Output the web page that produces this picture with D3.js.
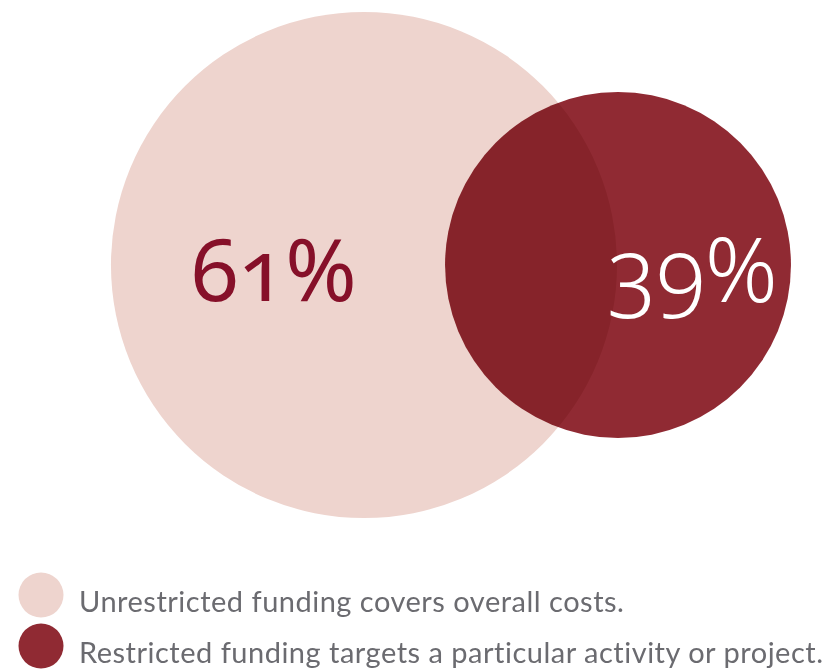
<!DOCTYPE html>
<html>
<head>
<meta charset="utf-8">
<script src="https://cdn.jsdelivr.net/npm/d3@7"></script>
<style>
  html, body { margin: 0; padding: 0; background: #fff; }
  svg { display: block; }
</style>
</head>
<body>
<svg id="chart" width="830" height="671"></svg>
<script>
// Funding split: unrestricted vs restricted
const categories = ["Unrestricted", "Restricted"];
const values = [61, 39];
const legendLabels = [
  "Unrestricted funding covers overall costs.",
  "Restricted funding targets a particular activity or project."
];
const fills = ["#eed4ce", "#902a33"];
const labelColors = ["#861029", "#ffffff"];

const svg = d3.select("#chart");

// Bubble radius and placement scales
const rScale = d3.scaleLinear().domain([0, 100]).range([31, 395]);
const xScale = d3.scalePoint().domain(categories).range([364, 618]);
const cy = 265;

const data = categories.map((c, i) => ({
  cat: c, value: values[i], fill: fills[i], labelColor: labelColors[i]
}));

const bubbles = svg.append("g");
// Restricted circle first, unrestricted multiplied over it so the overlap darkens
bubbles.selectAll("circle")
  .data([data[1], data[0]])
  .join("circle")
  .attr("cx", d => xScale(d.cat))
  .attr("cy", cy)
  .attr("r", d => rScale(d.value))
  .attr("fill", d => d.fill)
  .style("mix-blend-mode", "multiply");

// Percentage labels (old-style figures)
const labelX = [274, 693];
const labelSize = [86, 90];
svg.append("g").selectAll("text")
  .data(data)
  .join("text")
  .attr("x", (d, i) => labelX[i])
  .attr("y", (d, i) => i === 0 ? 301 : 302)
  .attr("text-anchor", "middle")
  .attr("fill", d => d.labelColor)
  .style("font-family", "'Noto Sans', 'Open Sans', sans-serif")
  .style("font-weight", (d, i) => i === 0 ? 400 : 300)
  .style("font-size", (d, i) => labelSize[i] + "px")
  .style("font-variant-numeric", "oldstyle-nums")
  .style("font-feature-settings", "'onum' 1")
  .text(d => d.value + "%");

// Legend
const legend = svg.append("g");
const legendY = d3.scalePoint().domain(categories).range([595, 646]);
const items = legend.selectAll("g")
  .data(data)
  .join("g")
  .attr("transform", d => `translate(0,${legendY(d.cat)})`);
items.append("circle")
  .attr("cx", 41)
  .attr("cy", 0)
  .attr("r", 22.5)
  .attr("fill", d => d.fill);
items.append("text")
  .attr("x", 79)
  .attr("y", 17)
  .attr("fill", "#6b6b70")
  .style("font-family", "Lato, sans-serif")
  .style("font-size", "29px")
  .style("letter-spacing", "0.5px")
  .text((d, i) => legendLabels[i]);
</script>
</body>
</html>
